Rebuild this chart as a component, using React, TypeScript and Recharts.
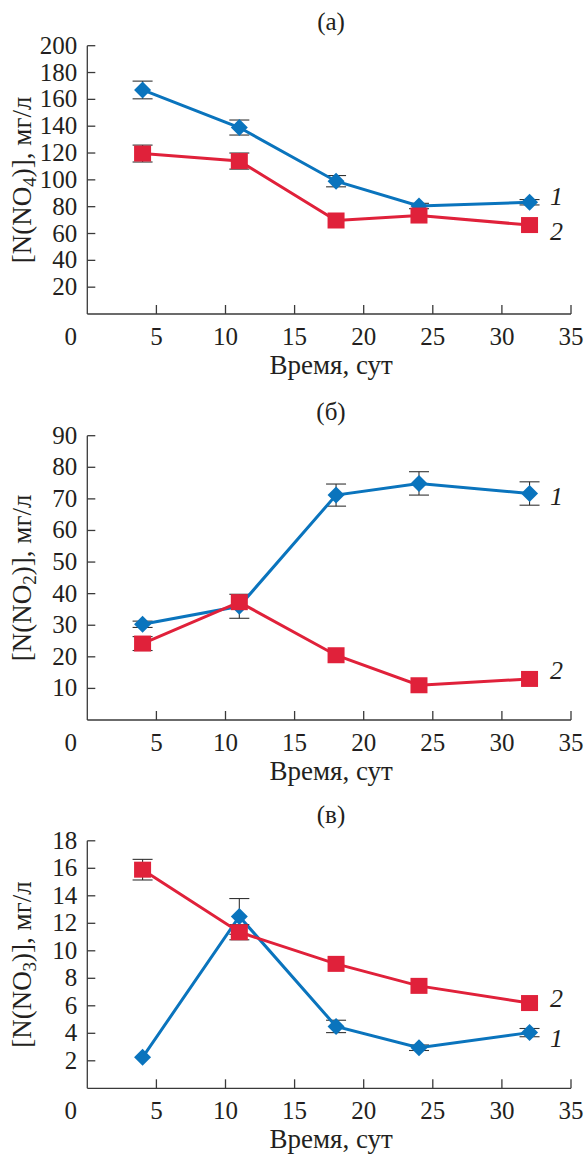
import React from 'react';
import { LineChart, Line, XAxis, YAxis, ErrorBar } from 'recharts';

const days = [4, 11, 18, 24, 32];
const xTicks = [0, 5, 10, 15, 20, 25, 30, 35];

// (а) [N(NO4)]
const nh4Series1 = [167, 139, 99, 80.5, 83.3];
const nh4Err1 = [6.6, 5.6, 4.2, 2, 2];
const nh4Series2 = [119.6, 114, 69.7, 73.4, 66.3];
const nh4Err2 = [6.3, 6, 0, 0, 0];
const nh4Ticks = [20, 40, 60, 80, 100, 120, 140, 160, 180, 200];

// (б) [N(NO2)]
const no2Series1 = [30.3, 36, 71.2, 74.9, 71.7];
const no2Err1 = [1, 3.8, 3.5, 3.7, 3.7];
const no2Series2 = [24.2, 37.3, 20.5, 11, 13];
const no2Err2 = [2.2, 0, 0, 0, 0];
const no2Ticks = [10, 20, 30, 40, 50, 60, 70, 80, 90];

// (в) [N(NO3)]
const no3Series1 = [2.25, 12.5, 4.5, 2.95, 4.05];
const no3Err1 = [0, 1.3, 0.45, 0.2, 0.3];
const no3Series2 = [15.9, 11.35, 9.05, 7.45, 6.2];
const no3Err2 = [0.75, 0.55, 0, 0, 0];
const no3Ticks = [2, 4, 6, 8, 10, 12, 14, 16, 18];

const BLUE = '#0a74bd';
const RED = '#e0213a';
const INK = '#231f20';
const AXIS = '#3a3a3a';
const FONT = '"Liberation Serif", "DejaVu Serif", serif';
const FS = 25;
const FT = 27;

type PanelProps = {
  s1: number[];
  e1: number[];
  s2: number[];
  e2: number[];
  yMax: number;
  yTicks: number[];
  sub: string;
  top: number;
  height: number;
  marginTop: number;
  xAxisHeight: number;
  label1Dy: number;
  label2Dy: number;
};

const makeDot = (shape: 'diamond' | 'square', color: string, labelText: string, labelDy: number, last: number) =>
  (p: any) => {
    const { cx, cy, index } = p;
    if (cx == null || cy == null) return <g key={`d-${shape}-${index}`} />;
    return (
      <g key={`d-${shape}-${index}`}>
        {shape === 'diamond' ? (
          <path d={`M${cx},${cy - 8.5}L${cx + 8.5},${cy}L${cx},${cy + 8.5}L${cx - 8.5},${cy}Z`} fill={color} />
        ) : (
          <rect x={cx - 8.5} y={cy - 8} width={17} height={16} fill={color} />
        )}
        {index === last && (
          <text x={cx + 27} y={cy + labelDy} textAnchor="middle" fontStyle="italic" fontFamily={FONT} fontSize={26} fill={INK}>
            {labelText}
          </text>
        )}
      </g>
    );
  };

const XTick = (p: any) => {
  const { x, y, payload } = p;
  const v = payload.value;
  return (
    <g>
      {v !== 0 && <line x1={x} y1={y} x2={x} y2={y - 9} stroke={AXIS} strokeWidth={1.3} />}
      <text x={v === 0 ? x - 16.5 : x} y={y + 31} textAnchor="middle" fontFamily={FONT} fontSize={FS} fill={INK}>
        {v}
      </text>
    </g>
  );
};

const YTick = (p: any) => {
  const { x, y, payload } = p;
  return (
    <g>
      <line x1={x} y1={y} x2={x + 8} y2={y} stroke={AXIS} strokeWidth={1.3} />
      <text x={x - 10} y={y + 8} textAnchor="end" fontFamily={FONT} fontSize={FS} fill={INK}>
        {payload.value}
      </text>
    </g>
  );
};

function Panel(props: PanelProps) {
  const data = days.map((d, i) => ({
    day: d,
    a: props.s1[i],
    ea: props.e1[i],
    b: props.s2[i],
    eb: props.e2[i],
  }));
  const last = days.length - 1;
  const sub = props.sub;
  return (
    <div style={{ position: 'absolute', left: 0, top: props.top, width: 586, height: props.height }}>
      <LineChart width={586} height={props.height} data={data} margin={{ top: props.marginTop, right: 15, left: 0, bottom: 0 }}>
        <XAxis
          dataKey="day"
          type="number"
          domain={[0, 35]}
          ticks={xTicks}
          height={props.xAxisHeight}
          tickSize={0}
          tickMargin={0}
          tickLine={false}
          axisLine={{ stroke: AXIS, strokeWidth: 1.3 }}
          tick={<XTick />}
          interval={0}
          label={{
            content: (lp: any) => {
              const vb = lp.viewBox || {};
              return (
                <text x={vb.x + vb.width / 2 + 2} y={vb.y + 60} textAnchor="middle" fontFamily={FONT} fontSize={FT} fill={INK}>
                  Время, сут
                </text>
              );
            },
          }}
        />
        <YAxis
          type="number"
          domain={[0, props.yMax]}
          ticks={props.yTicks}
          width={87.3}
          tickSize={0}
          tickMargin={0}
          tickLine={false}
          axisLine={{ stroke: AXIS, strokeWidth: 1.3 }}
          tick={<YTick />}
          interval={0}
          allowDataOverflow
          label={{
            content: (lp: any) => {
              const vb = lp.viewBox || {};
              const cx = (vb.x || 0) + 31;
              const cy = vb.y + vb.height / 2;
              return (
                <text transform={`rotate(-90 ${cx} ${cy})`} x={cx} y={cy} textAnchor="middle" fontFamily={FONT} fontSize={FT} fill={INK}>
                  [N(NO<tspan dy={5} fontSize={19}>{sub}</tspan><tspan dy={-5}>)], мг/л</tspan>
                </text>
              );
            },
          }}
        />
        <Line
          dataKey="a"
          type="linear"
          stroke={BLUE}
          strokeWidth={3}
          isAnimationActive={false}
          dot={makeDot('diamond', BLUE, '1', props.label1Dy, last)}
          activeDot={false}
        >
          <ErrorBar dataKey="ea" width={10} stroke="#333" strokeWidth={1.1} direction="y" isAnimationActive={false} />
        </Line>
        <Line
          dataKey="b"
          type="linear"
          stroke={RED}
          strokeWidth={3}
          isAnimationActive={false}
          dot={makeDot('square', RED, '2', props.label2Dy, last)}
          activeDot={false}
        >
          <ErrorBar dataKey="eb" width={10} stroke="#333" strokeWidth={1.1} direction="y" isAnimationActive={false} />
        </Line>
      </LineChart>
    </div>
  );
}

export default function App() {
  return (
    <div style={{ position: 'absolute', left: 0, top: 0, width: 586, height: 1154, background: '#fff' }}>
      <Panel s1={nh4Series1} e1={nh4Err1} s2={nh4Series2} e2={nh4Err2} yMax={200} yTicks={nh4Ticks} sub="4"
        top={0} height={390} marginTop={45.7} xAxisHeight={76} label1Dy={3} label2Dy={15} />
      <Panel s1={no2Series1} e1={no2Err1} s2={no2Series2} e2={no2Err2} yMax={90} yTicks={no2Ticks} sub="2"
        top={390} height={400} marginTop={45.7} xAxisHeight={70} label1Dy={11} label2Dy={0} />
      <Panel s1={no3Series1} e1={no3Err1} s2={no3Series2} e2={no3Err2} yMax={18} yTicks={no3Ticks} sub="3"
        top={780} height={374} marginTop={60.8} xAxisHeight={65.7} label1Dy={14.5} label2Dy={4} />
      <svg width={586} height={1154} style={{ position: 'absolute', left: 0, top: 0, pointerEvents: 'none' }}>
        <text x={331} y={30} textAnchor="middle" fontFamily={FONT} fontSize={FS} fill={INK}>(а)</text>
        <text x={331} y={420} textAnchor="middle" fontFamily={FONT} fontSize={FS} fill={INK}>(б)</text>
        <text x={331} y={823} textAnchor="middle" fontFamily={FONT} fontSize={FS} fill={INK}>(в)</text>
      </svg>
    </div>
  );
}
